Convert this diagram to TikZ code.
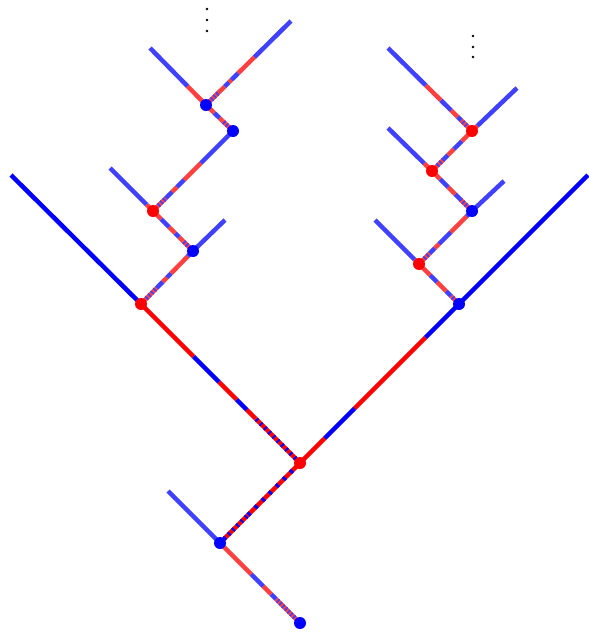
\documentclass[tikz,border=0pt]{standalone}
\usetikzlibrary{calc}
\definecolor{lred}{RGB}{255,64,64}
\definecolor{lblue}{RGB}{64,64,255}
\tikzset{
 seg/.style={line width=4.5pt, line cap=butt},
 sR/.style={seg, draw=red},
 sB/.style={seg, draw=blue},
 sS/.style={seg, draw=red, postaction={draw=blue, dash pattern=on 2pt off 4pt}},
 sD/.style={seg, draw=red, postaction={draw=blue, dash pattern=on 3pt off 7pt}},
 lR/.style={seg, draw=lred},
 lB/.style={seg, draw=lblue},
 lS/.style={seg, draw=lred, postaction={draw=lblue, dash pattern=on 1.6pt off 2.2pt}},
 dotR/.style={circle, fill=red, inner sep=0pt, minimum size=12pt},
 dotB/.style={circle, fill=blue, inner sep=0pt, minimum size=12pt},
 vdot/.style={circle, fill=black, inner sep=0pt, minimum size=2.8pt},
}
\newcommand\drawseg[5]{\draw[#1] ($(#2)!#4!(#3)$) -- ($(#2)!#5!(#3)$);}
\newcommand\edg[3]{\foreach \a/\b/\c in {#3}{\expandafter\drawseg\expandafter{\c}{#1}{#2}{\a}{\b}}}
\begin{document}
\begin{tikzpicture}[x=1pt,y=-1pt]
\useasboundingbox (0,0) rectangle (589,641);
% inner nodes
\coordinate (R0) at (300,623);
\coordinate (N1) at (220,543);
\coordinate (N2) at (300,463);
\coordinate (L1) at (141,304);
\coordinate (R1) at (459,304);
\coordinate (L2) at (193,251);
\coordinate (L3) at (153,211);
\coordinate (L4) at (233,131);
\coordinate (L5) at (206,105);
\coordinate (R2) at (419,264);
\coordinate (R3) at (472,211);
\coordinate (R4) at (432,171);
\coordinate (R5) at (472,131);
% leaf ends
\coordinate (N1a) at (168,491);
\coordinate (L1a) at (11,175);
\coordinate (R1a) at (588,175);
\coordinate (L2a) at (225,220);
\coordinate (L3a) at (110,168);
\coordinate (L5a) at (150,48);
\coordinate (L5b) at (291,21);
\coordinate (R2a) at (375,220);
\coordinate (R3a) at (504,181);
\coordinate (R4a) at (388,128);
\coordinate (R5a) at (517,88);
\coordinate (R5b) at (388,48);
% edges
\edg{R0}{N1}{0/0.3/lS, 0.3/0.36/lB, 0.36/0.46/lR, 0.46/0.61/lB, 0.61/1/lR}
\edg{N1}{N1a}{0/1/lB}
\edg{N1}{N2}{0/0.35/sS, 0.35/1/sD}
\edg{N2}{L1}{0/0.28/sS, 0.28/0.335/sR, 0.335/0.40/sB, 0.40/0.51/sR, 0.51/0.67/sB, 0.67/1/sR}
\edg{N2}{R1}{0/0.156/sR, 0.156/0.344/sB, 0.344/0.79/sR, 0.79/1/sB}
\edg{L1}{L1a}{0/1/sB}
\edg{R1}{R1a}{0/1/sB}
\edg{L1}{L2}{0/0.3/lS, 0.3/0.42/lB, 0.42/0.5/lR, 0.5/0.58/lB, 0.58/0.9/lR, 0.9/1/lB}
\edg{L2}{L2a}{0/1/lB}
\edg{L2}{L3}{0/0.25/lS, 0.25/0.35/lR, 0.35/0.45/lB, 0.45/0.6/lR, 0.6/0.8/lB, 0.8/1/lR}
\edg{L3}{L3a}{0/0.15/lR, 0.15/1/lB}
\edg{L3}{L4}{0/0.16/lS, 0.16/0.24/lB, 0.24/0.3/lR, 0.3/0.39/lB, 0.39/0.6/lR, 0.6/1/lB}
\edg{L4}{L5}{0/0.4/lS, 0.4/0.5/lR, 0.5/0.7/lB, 0.7/1/lR}
\edg{L5}{L5a}{0/0.33/lR, 0.33/1/lB}
\edg{L5}{L5b}{0/0.16/lS, 0.16/0.22/lR, 0.22/0.27/lB, 0.27/0.3/lR, 0.3/0.38/lB, 0.38/0.57/lR, 0.57/1/lB}
\edg{R1}{R2}{0/0.2/lS, 0.2/0.32/lB, 0.32/0.55/lR, 0.55/0.72/lB, 0.72/1/lR}
\edg{R2}{R2a}{0/0.1/lR, 0.1/1/lB}
\edg{R2}{R3}{0/0.2/lS, 0.2/0.3/lB, 0.3/0.38/lR, 0.38/0.6/lB, 0.6/0.9/lR, 0.9/1/lB}
\edg{R3}{R3a}{0/1/lB}
\edg{R3}{R4}{0/0.3/lS, 0.3/0.42/lB, 0.42/0.6/lR, 0.6/0.8/lB, 0.8/1/lR}
\edg{R4}{R4a}{0/0.18/lR, 0.18/1/lB}
\edg{R4}{R5}{0/0.3/lS, 0.3/0.4/lB, 0.4/0.55/lR, 0.55/0.75/lB, 0.75/1/lR}
\edg{R5}{R5a}{0/0.12/lR, 0.12/1/lB}
\edg{R5}{R5b}{0/0.13/lS, 0.13/0.17/lB, 0.17/0.25/lR, 0.25/0.37/lB, 0.37/0.55/lR, 0.55/1/lB}
% dots
\node[dotB] (dR0) at (R0) {};
\node[dotB] (dN1) at (N1) {};
\node[dotR] (dN2) at (N2) {};
\node[dotR] (dL1) at (L1) {};
\node[dotB] (dR1) at (R1) {};
\node[dotB] (dL2) at (L2) {};
\node[dotR] (dL3) at (L3) {};
\node[dotB] (dL4) at (L4) {};
\node[dotB] (dL5) at (L5) {};
\node[dotR] (dR2) at (R2) {};
\node[dotB] (dR3) at (R3) {};
\node[dotR] (dR4) at (R4) {};
\node[dotR] (dR5) at (R5) {};
% vertical ellipses
\node[vdot] (v1) at (207,9) {};
\node[vdot] (v2) at (207,20) {};
\node[vdot] (v3) at (207,31) {};
\node[vdot] (w1) at (473,36) {};
\node[vdot] (w2) at (473,47) {};
\node[vdot] (w3) at (473,57) {};
\end{tikzpicture}
\end{document}
